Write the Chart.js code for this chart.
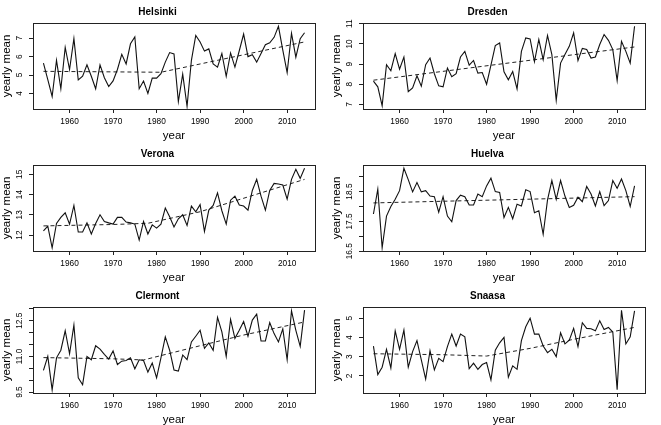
<!DOCTYPE html>
<html>
<head>
<meta charset="utf-8">
<script src="https://cdn.jsdelivr.net/npm/chart.js@4.4.0/dist/chart.umd.min.js"></script>
<style>
body { margin: 0; background: #fff; width: 661px; height: 425px; overflow: hidden; position: relative; }
canvas { position: absolute; }
</style>
</head>
<body>
<canvas id="c1" width="330" height="142" style="left:0;top:0"></canvas>
<canvas id="c2" width="330" height="142" style="left:330px;top:0"></canvas>
<canvas id="c3" width="330" height="142" style="left:0;top:142px"></canvas>
<canvas id="c4" width="330" height="142" style="left:330px;top:142px"></canvas>
<canvas id="c5" width="330" height="141" style="left:0;top:284px"></canvas>
<canvas id="c6" width="330" height="141" style="left:330px;top:284px"></canvas>
<script>
const years = [1954,1955,1956,1957,1958,1959,1960,1961,1962,1963,
  1964,1965,1966,1967,1968,1969,1970,1971,1972,1973,
  1974,1975,1976,1977,1978,1979,1980,1981,1982,1983,
  1984,1985,1986,1987,1988,1989,1990,1991,1992,1993,
  1994,1995,1996,1997,1998,1999,2000,2001,2002,2003,
  2004,2005,2006,2007,2008,2009,2010,2011,2012,2013,2014];
const xTicks = [1960, 1970, 1980, 1990, 2000, 2010];

const helsinki = [5.65,4.75,3.83,5.8,4.25,6.5,5.3,6.98,4.73,4.93,
  5.55,4.93,4.25,5.55,4.85,4.37,4.68,5.3,6.13,5.6,
  6.7,7.07,4.25,4.67,4.0,4.83,4.83,5.07,5.7,6.22,
  6.15,3.56,5.05,3.3,5.8,7.15,6.8,6.3,6.42,5.6,
  5.43,6.17,4.93,6.2,5.43,6.32,7.23,6.0,6.1,5.7,
  6.17,6.65,6.75,7.05,7.65,6.35,5.13,7.27,5.97,6.98,7.3];
const helsinkiTrendX = [1954, 1981, 2014];
const helsinkiTrend = [5.2, 5.15, 6.8];
const helsinkiTicks = [4, 5, 6, 7];
const helsinkiLabels = ['4', '5', '6', '7'];

const dresden = [8.15,7.87,6.93,8.97,8.67,9.52,8.75,9.35,7.63,7.82,
  8.42,7.9,8.97,9.3,8.52,7.92,7.87,8.8,8.37,8.52,
  9.35,9.63,8.95,9.18,8.55,8.58,8.0,8.95,9.92,10.05,
  8.62,8.22,8.63,7.77,9.63,10.3,10.25,9.12,10.22,9.22,
  10.42,9.47,7.2,9.05,9.47,9.88,10.55,9.18,9.78,9.72,
  9.3,9.35,9.97,10.47,10.18,9.72,8.18,10.13,9.63,9.05,10.88];
const dresdenTrendX = [1954, 2014];
const dresdenTrend = [8.2, 9.85];
const dresdenTicks = [7, 8, 9, 10, 11];
const dresdenLabels = ['7', '8', '9', '10', '11'];

const verona = [12.2,12.44,11.37,12.57,12.87,13.1,12.54,13.46,12.15,12.15,
  12.6,12.05,12.57,13.0,12.67,12.6,12.54,12.87,12.87,12.64,
  12.6,12.54,11.75,12.67,12.05,12.5,12.34,12.54,13.33,12.9,
  12.4,12.8,13.0,12.47,13.43,13.15,13.5,12.18,13.23,13.46,
  14.08,13.2,12.54,13.72,13.92,13.48,13.43,13.23,14.2,14.75,
  13.92,13.23,14.2,14.55,14.52,14.47,13.77,14.75,15.25,14.8,15.3];
const veronaTrendX = [1954, 1970, 1978, 1990, 2014];
const veronaTrend = [12.45, 12.52, 12.58, 13.15, 14.75];
const veronaTicks = [12, 13, 14, 15];
const veronaLabels = ['12', '13', '14', '15'];

const huelva = [17.75,18.58,16.62,17.68,18.0,18.24,18.53,19.28,18.9,18.49,
  18.8,18.49,18.53,18.35,18.33,17.81,18.33,17.68,17.49,18.2,
  18.38,18.33,18.05,18.05,18.42,18.33,18.69,18.95,18.5,18.47,
  17.63,17.97,17.59,18.08,18.02,18.56,18.5,17.79,17.86,17.07,
  18.22,18.87,18.24,18.87,18.35,17.97,18.04,18.31,18.16,18.67,
  18.42,18.02,18.5,18.03,18.2,18.87,18.61,18.92,18.53,18.0,18.69];
const huelvaTrendX = [1954, 2014];
const huelvaTrend = [18.12, 18.33];
const huelvaTicks = [16.5, 17, 17.5, 18, 18.5, 19];
const huelvaLabels = ['16.5', '', '17.5', '', '18.5', ''];

const clermont = [10.41,11.0,9.59,10.94,11.26,12.08,11.11,12.32,10.1,9.81,
  11.0,10.86,11.45,11.31,11.09,10.89,11.23,10.66,10.8,10.83,
  10.94,10.48,10.86,10.83,10.34,10.72,10.1,10.94,11.82,11.26,
  10.43,10.38,11.06,10.86,11.61,11.85,12.1,11.34,11.57,11.26,
  12.64,12.03,11.0,12.56,11.76,12.1,12.47,11.85,12.53,12.78,
  11.65,11.65,12.42,11.96,11.61,12.16,10.86,12.92,12.1,11.42,12.95];
const clermontTrendX = [1954, 1970, 1977, 1990, 2000, 2014];
const clermontTrend = [10.95, 10.9, 10.85, 11.45, 11.9, 12.45];
const clermontTicks = [9.5, 10, 10.5, 11, 11.5, 12, 12.5, 13];
const clermontLabels = ['9.5', '', '', '11.0', '', '', '12.5', ''];

const snaasa = [3.55,2.07,2.45,3.38,2.41,4.34,3.38,4.38,2.45,3.26,
  3.83,2.83,1.83,3.31,2.31,2.91,2.74,3.52,4.17,3.55,
  4.17,4.03,2.38,2.66,2.34,2.59,2.69,1.79,3.34,3.72,
  4.0,1.93,2.52,2.34,3.83,4.55,5.0,4.17,4.17,3.55,
  3.21,3.38,3.0,4.24,3.66,3.86,4.47,3.52,4.76,4.47,
  4.45,4.34,4.86,4.41,4.52,4.28,1.28,5.41,3.66,4.03,5.38];
const snaasaTrendX = [1954, 1970, 1980, 1990, 2000, 2014];
const snaasaTrend = [3.15, 3.1, 3.03, 3.43, 3.9, 4.52];
const snaasaTicks = [2, 3, 4, 5];
const snaasaLabels = ['2', '3', '4', '5'];

const fontFamily = '"Liberation Sans", Arial, sans-serif';
const tickSize = 8.3;

// draws the closed box around the plot region, like R's box()
const boxPlugin = {
  id: 'box',
  afterDraw(chart) {
    let a = chart.chartArea;
    let c = chart.ctx;
    c.save();
    c.strokeStyle = '#222';
    c.lineWidth = 1;
    c.strokeRect(Math.round(a.left) + 0.5, Math.round(a.top) + 0.5,
      Math.round(a.right - a.left), Math.round(a.bottom - a.top));
    c.restore();
  }
};

function labelPad(labels) {
  let c = document.createElement('canvas').getContext('2d');
  c.font = tickSize + 'px ' + fontFamily;
  let w = Math.max(...labels.map(s => c.measureText(s).width));
  return 9.5 - w / 2;
}

function makeChart(id, name, values, trendX, trendY, yTicks, yLabels, yMin, yMax) {
  let canvas = document.getElementById(id);
  let ctx = canvas.getContext('2d');
  // x axis band so the plot bottom sits 109px below the canvas top
  let axisH = canvas.height - 109;
  return new Chart(ctx, {
    type: 'line',
    data: {
      datasets: [{
        data: years.map((y, i) => ({ x: y, y: values[i] })),
        borderColor: '#111',
        borderWidth: 1.1,
        pointRadius: 0,
        tension: 0
      }, {
        data: trendX.map((y, i) => ({ x: y, y: trendY[i] })),
        borderColor: '#222',
        borderWidth: 1,
        borderDash: [4, 3],
        pointRadius: 0,
        tension: 0
      }]
    },
    options: {
      responsive: false,
      animation: false,
      layout: { padding: { left: 0, right: 15, top: 0, bottom: 0 } },
      plugins: {
        legend: { display: false },
        tooltip: { enabled: false },
        title: {
          display: true,
          text: name,
          color: '#000',
          font: { family: fontFamily, size: 10, weight: 'bold', lineHeight: 1.2 },
          padding: { top: 6.5, bottom: 4.5 }
        }
      },
      scales: {
        x: {
          type: 'linear',
          min: 1951.6,
          max: 2016.4,
          afterBuildTicks: s => { s.ticks = xTicks.map(v => ({ value: v })); },
          afterFit: s => { s.height = axisH; },
          grid: { display: true, drawOnChartArea: false, drawTicks: true, tickLength: 4, color: '#222' },
          border: { display: false },
          ticks: {
            autoSkip: false,
            maxRotation: 0,
            padding: 4,
            color: '#000',
            font: { family: fontFamily, size: tickSize },
            callback: v => String(v)
          },
          title: {
            display: true,
            text: 'year',
            color: '#000',
            font: { family: fontFamily, size: 11.5, lineHeight: 1.2 },
            padding: { top: 0, bottom: axisH - 34 }
          }
        },
        y: {
          type: 'linear',
          min: yMin,
          max: yMax,
          afterBuildTicks: s => { s.ticks = yTicks.map(v => ({ value: v })); },
          afterFit: s => { s.width = 33; },
          grid: { display: true, drawOnChartArea: false, drawTicks: true, tickLength: 4, color: '#222' },
          border: { display: false },
          ticks: {
            autoSkip: false,
            minRotation: 90,
            maxRotation: 90,
            crossAlign: 'center',
            padding: labelPad(yLabels),
            color: '#000',
            font: { family: fontFamily, size: tickSize },
            callback: v => {
              let i = yTicks.indexOf(v);
              return i >= 0 ? yLabels[i] : '';
            }
          },
          title: {
            display: true,
            text: 'yearly mean',
            color: '#000',
            font: { family: fontFamily, size: 11.5, lineHeight: 1.2 },
            padding: { top: 0, bottom: 0 }
          }
        }
      }
    },
    plugins: [boxPlugin]
  });
}

makeChart('c1', 'Helsinki', helsinki, helsinkiTrendX, helsinkiTrend, helsinkiTicks, helsinkiLabels, 3.15, 7.83);
makeChart('c2', 'Dresden', dresden, dresdenTrendX, dresdenTrend, dresdenTicks, dresdenLabels, 6.77, 11.04);
makeChart('c3', 'Verona', verona, veronaTrendX, veronaTrend, veronaTicks, veronaLabels, 11.21, 15.46);
makeChart('c4', 'Huelva', huelva, huelvaTrendX, huelvaTrend, huelvaTicks, huelvaLabels, 16.51, 19.39);
makeChart('c5', 'Clermont', clermont, clermontTrendX, clermontTrend, clermontTicks, clermontLabels, 9.46, 13.08);
makeChart('c6', 'Snaasa', snaasa, snaasaTrendX, snaasaTrend, snaasaTicks, snaasaLabels, 1.11, 5.58);
</script>
</body>
</html>
